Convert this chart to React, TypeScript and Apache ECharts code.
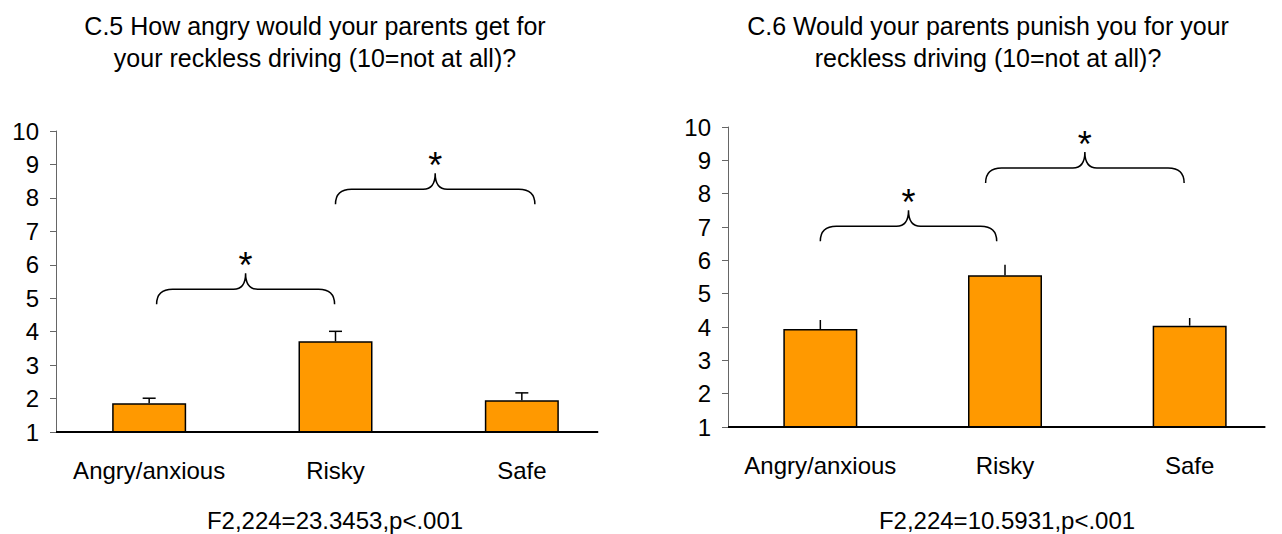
import React, { useEffect, useRef } from "react";
import * as echarts from "echarts";

const FONT = "'Liberation Sans', Arial, sans-serif";

const categories = ["Angry/anxious", "Risky", "Safe"];

// C.5 chart
const c5Title = "C.5 How angry would your parents get for\nyour reckless driving (10=not at all)?";
const c5Means = [1.86, 3.71, 1.95];
const c5Upper = [2.01, 4.01, 2.17];
const c5Note = "F2,224=23.3453,p<.001";
// [from category, level, to category]
const c5Braces = [
  [0.04, 5.27, 0.995],
  [1.0, 8.26, 2.07],
];

// C.6 chart
const c6Title = "C.6 Would your parents punish you for your\nreckless driving (10=not at all)?";
const c6Means = [3.94, 5.55, 4.04];
const c6Upper = [4.21, 5.87, 4.27];
const c6Note = "F2,224=10.5931,p<.001";
const c6Braces = [
  [0.0, 7.02, 0.955],
  [0.895, 8.77, 1.97],
];

const yMin = 1;
const yMax = 10;
const yInterval = 1;
const axisEnd = 2.41; // x-axis line end, in category units

function errorRender(cap: boolean) {
  return (params: any, api: any) => {
    const i = api.value(0);
    const lo = api.coord([i, api.value(1)]);
    const hi = api.coord([i, api.value(2)]);
    const style = { stroke: "#000", lineWidth: 1.5 };
    const children: any[] = [
      { type: "line", shape: { x1: lo[0], y1: lo[1], x2: hi[0], y2: hi[1] }, style },
    ];
    if (cap) {
      children.push({
        type: "line",
        shape: { x1: hi[0] - 6.5, y1: hi[1], x2: hi[0] + 6.5, y2: hi[1] },
        style,
      });
    }
    return { type: "group", children };
  };
}

function braceRender(params: any, api: any) {
  const from = api.value(0);
  const lvl = api.value(1);
  const to = api.value(2);
  const a = api.coord([0, lvl]);
  const b = api.coord([1, lvl]);
  const band = b[0] - a[0];
  const x1 = a[0] + from * band;
  const x2 = a[0] + to * band;
  const yH = a[1];
  const yE = yH + 15;
  const yT = yH - 16;
  const xm = (x1 + x2) / 2;
  const r = 16;
  const m = 12;
  const d =
    `M${x1},${yE} Q${x1},${yH} ${x1 + r},${yH} L${xm - m},${yH} Q${xm},${yH} ${xm},${yT} ` +
    `Q${xm},${yH} ${xm + m},${yH} L${x2 - r},${yH} Q${x2},${yH} ${x2},${yE}`;
  return {
    type: "group",
    children: [
      { type: "path", shape: { pathData: d }, style: { stroke: "#000", fill: "none", lineWidth: 1.5 } },
      {
        type: "text",
        x: xm,
        y: yT - 8,
        style: {
          text: "*",
          fontSize: 36,
          fontFamily: FONT,
          fill: "#000",
          textAlign: "center",
          textVerticalAlign: "middle",
        },
      },
    ],
  };
}

function axisLineRender(params: any, api: any) {
  const from = api.value(0);
  const lvl = api.value(1);
  const to = api.value(2);
  const a = api.coord([0, lvl]);
  const b = api.coord([1, lvl]);
  const band = b[0] - a[0];
  return {
    type: "line",
    shape: { x1: a[0] + from * band, y1: a[1], x2: a[0] + to * band, y2: a[1] },
    style: { stroke: "#000", lineWidth: 2 },
  };
}

function buildSeries(gi: number, means: number[], upper: number[], braces: number[][], cap: boolean) {
  return [
    {
      type: "bar",
      xAxisIndex: gi,
      yAxisIndex: gi,
      data: means,
      barWidth: 74,
      itemStyle: { color: "#FF9900", borderColor: "#000", borderWidth: 1.5 },
      z: 2,
    },
    {
      type: "custom",
      xAxisIndex: gi,
      yAxisIndex: gi,
      data: categories.map((_, i) => [i, means[i], upper[i]]),
      encode: { x: 0, y: [1, 2] },
      renderItem: errorRender(cap),
      z: 3,
    },
    {
      type: "custom",
      xAxisIndex: gi,
      yAxisIndex: gi,
      data: braces,
      encode: { x: 0, y: 1 },
      renderItem: braceRender,
      z: 3,
    },
    {
      type: "custom",
      xAxisIndex: gi,
      yAxisIndex: gi,
      data: [[-0.5, yMin, axisEnd]],
      encode: { x: 0, y: 1 },
      renderItem: axisLineRender,
      z: 4,
    },
  ];
}

function xAxisOf(gi: number) {
  return {
    type: "category",
    gridIndex: gi,
    data: categories,
    axisLine: { show: false },
    axisTick: { show: false },
    axisLabel: { interval: 0, fontSize: 24, color: "#000", margin: 26, fontFamily: FONT },
    splitLine: { show: false },
  };
}

function yAxisOf(gi: number) {
  return {
    type: "value",
    gridIndex: gi,
    min: yMin,
    max: yMax,
    interval: yInterval,
    axisLine: { show: true, lineStyle: { color: "#666", width: 1 } },
    axisTick: { show: true, length: 6, lineStyle: { color: "#666", width: 1 } },
    splitLine: { show: false },
    axisLabel: { fontSize: 24, color: "#000", margin: 17, fontFamily: FONT },
  };
}

function textEl(text: string, x: number, y: number, fontSize: number, lineHeight: number) {
  return {
    type: "text",
    x,
    y,
    style: {
      text,
      fontSize,
      lineHeight,
      fontFamily: FONT,
      fill: "#000",
      textAlign: "center",
      textVerticalAlign: "top",
    },
  };
}

export default function App() {
  const ref = useRef<HTMLDivElement>(null);
  useEffect(() => {
    if (!ref.current) return;
    const chart = echarts.init(ref.current, undefined, { renderer: "svg" });
    chart.setOption({
      animation: false,
      backgroundColor: "#fff",
      grid: [
        { left: 56, top: 131, width: 559, height: 301 },
        { left: 728, top: 127, width: 559, height: 300 },
      ],
      xAxis: [xAxisOf(0), xAxisOf(1)],
      yAxis: [yAxisOf(0), yAxisOf(1)],
      series: [
        ...buildSeries(0, c5Means, c5Upper, c5Braces, true),
        ...buildSeries(1, c6Means, c6Upper, c6Braces, false),
      ],
      graphic: [
        textEl(c5Title, 315, 10, 25, 32),
        textEl(c6Title, 988, 10, 25, 32),
        textEl(c5Note, 335, 508, 24, 24),
        textEl(c6Note, 1007, 508, 24, 24),
      ],
    });
    return () => chart.dispose();
  }, []);
  return (
    <div
      ref={ref}
      style={{ position: "fixed", left: 0, top: 0, width: 1282, height: 534, background: "#fff" }}
    />
  );
}
